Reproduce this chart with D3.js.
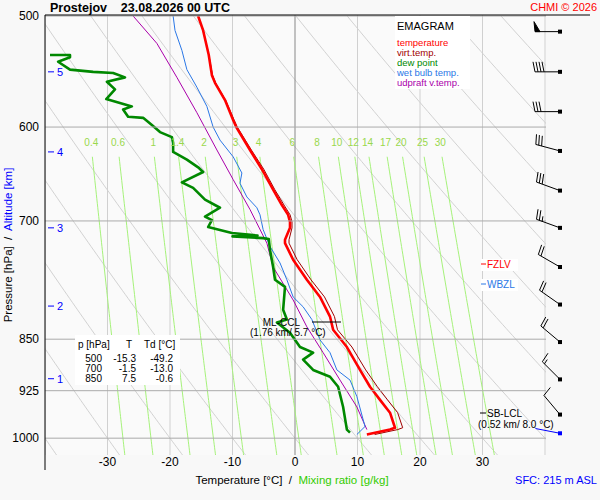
<!DOCTYPE html>
<html><head><meta charset="utf-8">
<script src="https://cdn.jsdelivr.net/npm/d3@7"></script>
<style>body{margin:0;background:#f8f8f8}svg{font-family:"Liberation Sans",Arial,sans-serif}</style>
</head><body><svg id="c" width="600" height="500"></svg>
<script>
// ---- data ----
const tempP = [500,512,533,551,558,574,593,600,623,643,665,682,693,701,708,722,726,746,771,793,819,837,861,894,919,939,959,983,986,994];
const tempT = [-15.5,-14.7,-13.8,-13.3,-12.8,-11.2,-9.9,-9.4,-7.2,-5.3,-3.5,-2.1,-1.1,-0.8,-0.8,-1.6,-1.6,-0.3,1.9,4.0,5.6,6.1,8.3,10.4,12.0,13.6,15.2,16.0,15.2,11.5];
const dewP = [533,533,535,539,546,548,549,553,557,564,573,580,583,590,591,598,605,610,616,625,633,641,646,657,663,676,685,695,699,707,714,717,718,720,721,734,755,771,780,810,823,827,841,861,869,879,894,904,919,950,986,991];
const dewT = [-39.2,-36,-36,-37.9,-36,-32.3,-29.1,-27.2,-30.1,-28.8,-30.2,-26.1,-27.5,-26.7,-24.3,-22.9,-21.6,-19.7,-19.5,-19.5,-17.3,-15.5,-14.7,-18.1,-16.3,-14.4,-12,-14.4,-13.3,-13.9,-10.1,-6,-10,-5.1,-4.2,-4,-3.5,-3.2,-1.6,-1.9,-1.3,-2.9,-0.8,0.8,2.9,1.3,2.9,5.6,6.9,7.7,8.3,8.8];
const wbP = [500,512,529,546,562,580,600,613,630,647,658,673,685,693,710,730,750,771,793,806,823,851,869,894,909,934,981,994];
const wbT = [-19.5,-19.2,-18.1,-17.3,-15.7,-14.1,-13.1,-12,-9.9,-8.5,-8.8,-7.7,-6.1,-5.6,-5.1,-4,-2.4,-1.3,-0.3,1.3,2.7,4,5.6,6.7,8.8,9.9,11.2,9.9];
const updP = [500,523,553,586,623,654,687,726,755,797,833,869,909,950,986];
const updT = [-25.9,-22.1,-18.9,-15.7,-12.5,-9.9,-7.2,-4.5,-3.5,-0.3,1.9,4.5,7.2,9.9,11.5];
const isoPress = [500,600,700,850,925,1000];
const tempTicks = [-30,-20,-10,0,10,20,30];
const mixRatios = [0.4,0.6,1,1.4,2,3,4,6,8,10,12,14,17,20,25,30];
const altKm = [1,2,3,4,5];
const altP = [907,805,708,625,548];
const windP = [513,548,585,624,666,708,755,803,854,908,962];
const windDir = [270,270,270,285,290,290,300,305,310,315,320];
const windKt = [50,40,30,30,30,25,20,20,20,15,10];
const sfcWindDir = 281, sfcWindP = 992;
const tableRows = [["500","-15.3","-49.2"],["700","-1.5","-13.0"],["850","7.5","-0.6"]];
const legendItems = [["temperature","#ff0000"],["virt.temp.","#a00000"],["dew point","#008800"],["wet bulb temp.","#2a77e6"],["udpraft v.temp.","#aa00aa"]];

// ---- scales ----
const svg = d3.select("#c");
const L=45,R=546,T0=15,B=455;
const x = d3.scaleLinear().domain([-40,40]).range([45,545]);
const y = d3.scaleLog().domain([500,1028]).range([16,455]);
const defs = svg.append("defs");
defs.append("clipPath").attr("id","pc").append("rect").attr("x",L).attr("y",T0).attr("width",R-L).attr("height",B-T0);
svg.append("rect").attr("x",L).attr("y",T0).attr("width",R-L).attr("height",B-T0).attr("fill","#fafafa");
const g = svg.append("g").attr("clip-path","url(#pc)");
const pr = d3.range(500,1031,5);
const line = d3.line().x(d=>x(d[1])).y(d=>y(d[0]));

// dry adiabats
for(let th=-40;th<=160;th+=10){
  g.append("path").attr("d",line(pr.map(p=>[p,(th+273.15)*Math.pow(p/1000,0.2857)-273.15]))).attr("fill","none").attr("stroke","#d2d2d2").attr("stroke-width",1);
}
// isotherms
d3.range(-40,41,10).forEach(t=>g.append("line").attr("x1",x(t)).attr("x2",x(t)).attr("y1",T0).attr("y2",B).attr("stroke",t===0?"#888":"#d0d0d0").attr("stroke-width",1));
// mixing ratio lines
function tdFromW(w,p){const e=w*p/(622+w);const a=Math.log(e/6.112);return 243.5*a/(17.67-a);}
const mrP = d3.range(630,1031,5);
mixRatios.forEach(w=>{
  g.append("path").attr("d",line(mrP.map(p=>[p,tdFromW(w,p)]))).attr("fill","none").attr("stroke","#a6f27a").attr("stroke-width",1);
  svg.append("text").attr("x",x(tdFromW(w,620))).attr("y",y(620)-1).attr("text-anchor","middle").attr("font-size",10).attr("fill","#99d84c").text(w);
});
// isobars
isoPress.forEach(p=>svg.append("line").attr("x1",L).attr("x2",R).attr("y1",y(p)).attr("y2",y(p)).attr("stroke","#aaa"));

// virtual temperature derived
const tdAt = p=>{const lp=Math.log(p);if(p<=dewP[0])return -49.2;for(let i=1;i<dewP.length;i++){if(Math.log(dewP[i])>=lp){const a=Math.log(dewP[i-1]),b=Math.log(dewP[i]);const f=b===a?1:(lp-a)/(b-a);return dewT[i-1]+f*(dewT[i]-dewT[i-1]);}}return dewT[dewT.length-1];};
const virtT = tempP.map((p,i)=>{const td=tdAt(p);const e=6.112*Math.exp(17.67*td/(td+243.5));const w=0.622*e/(p-e);return (tempT[i]+273.15)*(1+0.61*w)-273.15;});
const prof=(P,Tt,c,w)=>g.append("path").attr("d",line(P.map((p,i)=>[p,Tt[i]]))).attr("fill","none").attr("stroke",c).attr("stroke-width",w).attr("stroke-linejoin","round");
prof(updP,updT,"#aa00aa",1);
prof(wbP,wbT,"#2a77e6",1);
prof(tempP,virtT,"#a00000",1);
prof(tempP,tempT,"#ff0000",2.6);
prof(dewP,dewT,"#008800",2.6);

// axes frame
svg.append("line").attr("x1",L).attr("x2",L).attr("y1",T0).attr("y2",470).attr("stroke","#000");
svg.append("line").attr("x1",L).attr("x2",590).attr("y1",T0).attr("y2",T0).attr("stroke","#000");
isoPress.forEach(p=>svg.append("text").attr("x",39).attr("y",y(p)+4).attr("text-anchor","end").attr("font-size",12).text(p));
tempTicks.forEach(t=>svg.append("text").attr("x",x(t)).attr("y",466).attr("text-anchor","middle").attr("font-size",12).text(t));
altKm.forEach((k,i)=>{svg.append("line").attr("x1",48).attr("x2",54).attr("y1",y(altP[i])).attr("y2",y(altP[i])).attr("stroke","#0000ff");
  svg.append("text").attr("x",57).attr("y",y(altP[i])+4).attr("font-size",11).attr("fill","#0000ff").text(k);});

// titles
svg.append("text").attr("x",50).attr("y",12).attr("font-size",12.5).attr("font-weight","bold").attr("xml:space","preserve").text("Prostejov    23.08.2026 00 UTC");
svg.append("text").attr("x",597).attr("y",11).attr("text-anchor","end").attr("font-size",11).attr("fill","#ff0000").text("CHMI © 2026");
const yl = svg.append("text").attr("transform","translate(12,245) rotate(-90)").attr("text-anchor","middle").attr("font-size",11.5).attr("xml:space","preserve");
yl.append("tspan").text("Pressure [hPa]  /  ");yl.append("tspan").attr("fill","#0000ff").text("Altitude [km]");
const xl = svg.append("text").attr("x",292).attr("y",484).attr("text-anchor","middle").attr("font-size",11.5).attr("xml:space","preserve");
xl.append("tspan").text("Temperature [°C]  /  ");xl.append("tspan").attr("fill","#33cc00").text("Mixing ratio [g/kg]");
svg.append("text").attr("x",597).attr("y",484).attr("text-anchor","end").attr("font-size",11).attr("fill","#0000ff").text("SFC: 215 m ASL");

// legend
svg.append("rect").attr("x",395).attr("y",16).attr("width",75).attr("height",73).attr("fill","#fff");
svg.append("text").attr("x",397).attr("y",30).attr("font-size",11).text("EMAGRAM");
legendItems.forEach((d,i)=>svg.append("text").attr("x",397).attr("y",46+i*10).attr("font-size",9.5).attr("fill",d[1]).text(d[0]));

// table
svg.append("rect").attr("x",75).attr("y",335).attr("width",105).attr("height",50).attr("fill","#fff");
const th=svg.append("g").attr("font-size",10);
th.append("text").attr("x",78).attr("y",348).text("p [hPa]");
th.append("text").attr("x",126).attr("y",348).text("T");
th.append("text").attr("x",144).attr("y",348).text("Td [°C]");
tableRows.forEach((r,i)=>{const yy=362+i*10;
  th.append("text").attr("x",102).attr("y",yy).attr("text-anchor","end").text(r[0]);
  th.append("text").attr("x",136).attr("y",yy).attr("text-anchor","end").text(r[1]);
  th.append("text").attr("x",173).attr("y",yy).attr("text-anchor","end").text(r[2]);});

// annotations
svg.append("line").attr("x1",312).attr("x2",341).attr("y1",322).attr("y2",322).attr("stroke","#000");
svg.append("text").attr("x",300).attr("y",326).attr("text-anchor","end").attr("font-size",10).text("ML-CCL");
svg.append("text").attr("x",250).attr("y",336).attr("font-size",10).text("(1.76 km/ 5.7 °C)");
svg.append("rect").attr("x",481).attr("y",259).attr("width",37).attr("height",12).attr("fill","#fff");
svg.append("line").attr("x1",481).attr("x2",486).attr("y1",264).attr("y2",264).attr("stroke","#ff0000");
svg.append("text").attr("x",487).attr("y",268).attr("font-size",10).attr("fill","#ff0000").text("FZLV");
svg.append("rect").attr("x",481).attr("y",279).attr("width",37).attr("height",12).attr("fill","#fff");
svg.append("line").attr("x1",481).attr("x2",486).attr("y1",284).attr("y2",284).attr("stroke","#2a77e6");
svg.append("text").attr("x",487).attr("y",288).attr("font-size",10).attr("fill","#2a77e6").text("WBZL");
svg.append("line").attr("x1",480).attr("x2",486).attr("y1",413).attr("y2",413).attr("stroke","#000");
svg.append("text").attr("x",487).attr("y",417).attr("font-size",10).text("SB-LCL");
svg.append("text").attr("x",478).attr("y",428).attr("font-size",10).text("(0.52 km/ 8.0 °C)");

// wind barbs
const bx=560;
function barb(p,dir,kt,col){
  const by=y(p), r=dir*Math.PI/180, ux=Math.sin(r), uy=-Math.cos(r), vx=-uy, vy=ux;
  const len=25, gg=svg.append("g").attr("stroke",col).attr("fill",col).attr("stroke-width",1);
  gg.append("line").attr("x1",bx).attr("y1",by).attr("x2",bx+ux*len).attr("y2",by+uy*len);
  gg.append("rect").attr("x",bx-2).attr("y",by-2).attr("width",4).attr("height",4).attr("stroke","none");
  let pos=len, s=kt;
  const bl=10;
  while(s>=50){const ax=bx+ux*pos, ay=by+uy*pos, cx=bx+ux*(pos-5), cy=by+uy*(pos-5);
    gg.append("path").attr("d",`M${ax},${ay}L${ax+vx*bl+ux*1},${ay+vy*bl+uy*1}L${cx},${cy}Z`);pos-=7;s-=50;}
  while(s>=10){const ax=bx+ux*pos, ay=by+uy*pos;
    gg.append("line").attr("x1",ax).attr("y1",ay).attr("x2",ax+vx*bl+ux*2).attr("y2",ay+vy*bl+uy*2);pos-=3;s-=10;}
  if(s>=5){const ax=bx+ux*pos, ay=by+uy*pos;
    gg.append("line").attr("x1",ax).attr("y1",ay).attr("x2",ax+vx*bl*0.5+ux).attr("y2",ay+vy*bl*0.5+uy);}
}
windP.forEach((p,i)=>barb(p,windDir[i],windKt[i],"#000"));
barb(sfcWindP,sfcWindDir,0,"#0000ff");
</script></body></html>
